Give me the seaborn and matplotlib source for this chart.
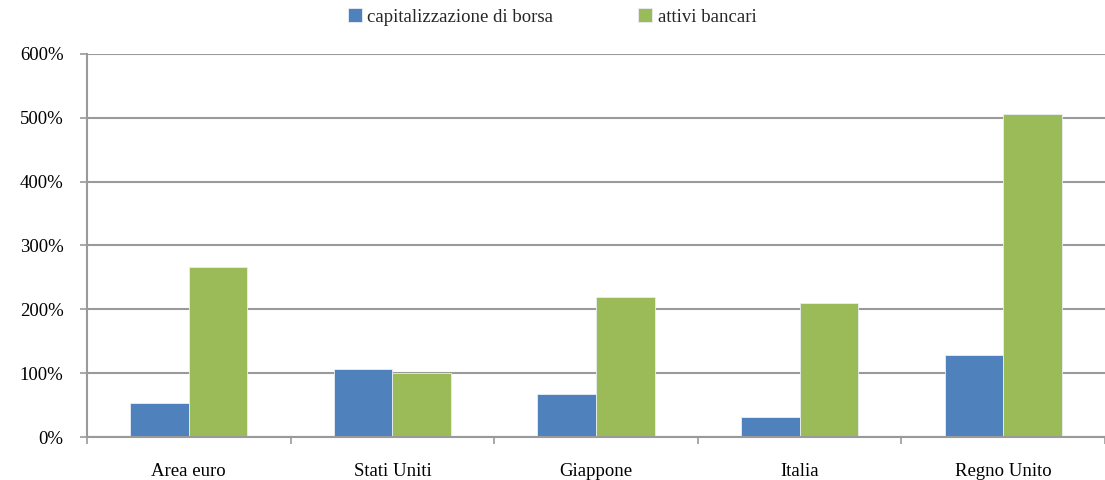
import matplotlib
matplotlib.use("Agg")
import matplotlib.pyplot as plt
import seaborn as sns
import pandas as pd
from matplotlib.ticker import FuncFormatter, FixedLocator

categories = ["Area euro", "Stati Uniti", "Giappone", "Italia", "Regno Unito"]
capitalizzazione = [53, 106, 68, 31, 128]
attivi = [267, 100, 219, 210, 506]
series_names = ["capitalizzazione di borsa", "attivi bancari"]
colors = ["#4F81BD", "#9BBB59"]

df = pd.DataFrame({
    "cat": categories * 2,
    "val": capitalizzazione + attivi,
    "serie": [series_names[0]] * 5 + [series_names[1]] * 5,
})

sns.set_theme(style="white")
plt.rcParams["font.family"] = ["Liberation Serif", "DejaVu Serif"]

fig = plt.figure(figsize=(11.05, 4.8), dpi=100)
ax = fig.add_axes([87 / 1105, 1 - 437 / 480, 1018 / 1105, 383 / 480])

sns.barplot(data=df, x="cat", y="val", hue="serie", order=categories,
            hue_order=series_names, palette=colors, width=0.575,
            edgecolor="#e8eef5", linewidth=0.6, saturation=1, ax=ax)

grid_c = "#9a9a9a"
fs = 13.5
ax.set_ylim(0, 600)
ax.set_xlim(-0.5, 4.5)
ax.set_yticks(range(0, 601, 100))
ax.yaxis.set_major_formatter(FuncFormatter(lambda v, p: f"{int(v)}%"))
ax.yaxis.grid(True, color=grid_c, linewidth=1.5)
ax.set_axisbelow(True)
ax.set_xlabel("")
ax.set_ylabel("")

for s in ["top", "right"]:
    ax.spines[s].set_visible(False)
for s in ["left", "bottom"]:
    ax.spines[s].set_color(grid_c)
    ax.spines[s].set_linewidth(1.5)

ax.tick_params(axis="y", which="major", left=True, length=5, width=1.2,
               color=grid_c, pad=12, labelsize=fs, labelcolor="#000000")
ax.tick_params(axis="x", which="major", bottom=False, pad=13, labelsize=fs,
               labelcolor="#000000")
ax.xaxis.set_minor_locator(FixedLocator([-0.5, 0.5, 1.5, 2.5, 3.5, 4.5]))
ax.tick_params(axis="x", which="minor", bottom=True, length=5, width=1.2,
               color=grid_c)

handles, labels = ax.get_legend_handles_labels()
ax.legend(handles, labels, loc="center", bbox_to_anchor=(552 / 1105, 1 - 17 / 480),
          bbox_transform=fig.transFigure, ncol=2, frameon=False,
          fontsize=fs, handlelength=0.75, handleheight=0.75,
          columnspacing=4.5, handletextpad=0.3)

fig.savefig("out.png", dpi=100)
